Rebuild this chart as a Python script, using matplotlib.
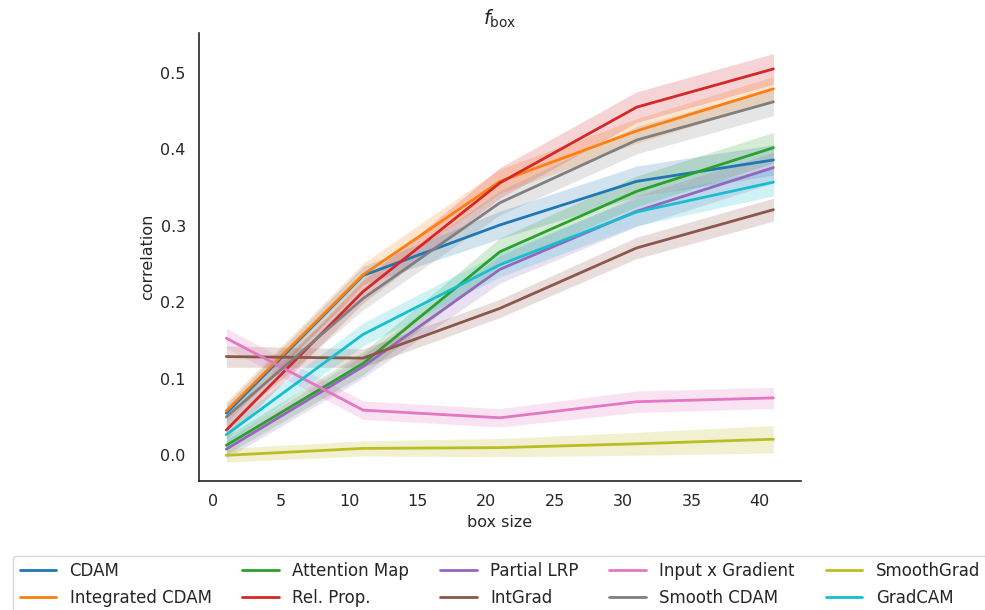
import matplotlib
matplotlib.use("Agg")
import matplotlib.pyplot as plt
import numpy as np
import seaborn as sns

sns.set_theme(style="white")
plt.rcParams['font.family'] = ['DejaVu Sans']

box_size = [1, 11, 21, 31, 41]

methods = ["CDAM", "Integrated CDAM", "Attention Map", "Rel. Prop.", "Partial LRP",
           "IntGrad", "Input x Gradient", "Smooth CDAM", "SmoothGrad", "GradCAM"]

cdam        = [0.055, 0.235, 0.301, 0.358, 0.386]
int_cdam    = [0.058, 0.236, 0.358, 0.424, 0.479]
attn_map    = [0.013, 0.120, 0.266, 0.345, 0.402]
rel_prop    = [0.033, 0.214, 0.356, 0.455, 0.505]
partial_lrp = [0.008, 0.116, 0.243, 0.319, 0.376]
intgrad     = [0.129, 0.127, 0.192, 0.271, 0.321]
input_grad  = [0.153, 0.059, 0.049, 0.070, 0.075]
smooth_cdam = [0.050, 0.205, 0.330, 0.412, 0.462]
smoothgrad  = [0.000, 0.009, 0.010, 0.015, 0.021]
gradcam     = [0.027, 0.158, 0.249, 0.318, 0.357]

# half-width of confidence bands
cdam_ci        = [0.012, 0.012, 0.018, 0.020, 0.020]
int_cdam_ci    = [0.012, 0.015, 0.016, 0.016, 0.016]
attn_map_ci    = [0.012, 0.015, 0.018, 0.020, 0.020]
rel_prop_ci    = [0.012, 0.015, 0.020, 0.020, 0.020]
partial_lrp_ci = [0.012, 0.015, 0.018, 0.020, 0.020]
intgrad_ci     = [0.014, 0.012, 0.012, 0.014, 0.015]
input_grad_ci  = [0.013, 0.012, 0.012, 0.014, 0.014]
smooth_cdam_ci = [0.012, 0.015, 0.016, 0.018, 0.018]
smoothgrad_ci  = [0.009, 0.010, 0.012, 0.015, 0.018]
gradcam_ci     = [0.012, 0.015, 0.016, 0.018, 0.018]

means = [cdam, int_cdam, attn_map, rel_prop, partial_lrp, intgrad,
         input_grad, smooth_cdam, smoothgrad, gradcam]
cis = [cdam_ci, int_cdam_ci, attn_map_ci, rel_prop_ci, partial_lrp_ci, intgrad_ci,
       input_grad_ci, smooth_cdam_ci, smoothgrad_ci, gradcam_ci]

colors = plt.get_cmap("tab10").colors

fig = plt.figure(figsize=(9.85, 6.10), dpi=100)
ax = fig.add_axes([0.202, 0.211, 0.611, 0.735])

x = np.array(box_size)
for name, m, c, col in zip(methods, means, cis, colors):
    m = np.array(m); c = np.array(c)
    ax.fill_between(x, m - c, m + c, color=col, alpha=0.2, linewidth=0)
    ax.plot(x, m, color=col, lw=2, label=name)

ax.set_xlim(-1, 43)
ax.set_ylim(-0.034, 0.552)
ax.set_xticks([0, 5, 10, 15, 20, 25, 30, 35, 40])
ax.set_yticks([0.0, 0.1, 0.2, 0.3, 0.4, 0.5])
ax.tick_params(labelsize=11.5, colors="#262626")
ax.set_xlabel("box size", fontsize=11.5, color="#262626")
ax.set_ylabel("correlation", fontsize=11.5, color="#262626")
ax.set_title(r"$f_{\rm box}$", fontsize=14)
for s in ["top", "right"]:
    ax.spines[s].set_visible(False)
for s in ["left", "bottom"]:
    ax.spines[s].set_color("#262626")
    ax.spines[s].set_linewidth(1.2)

leg = ax.legend(loc="upper center", bbox_to_anchor=(0.5, -0.147), ncol=5,
                fontsize=12, frameon=True, columnspacing=1.85, handlelength=2.2)

fig.savefig("out.png", dpi=100)
